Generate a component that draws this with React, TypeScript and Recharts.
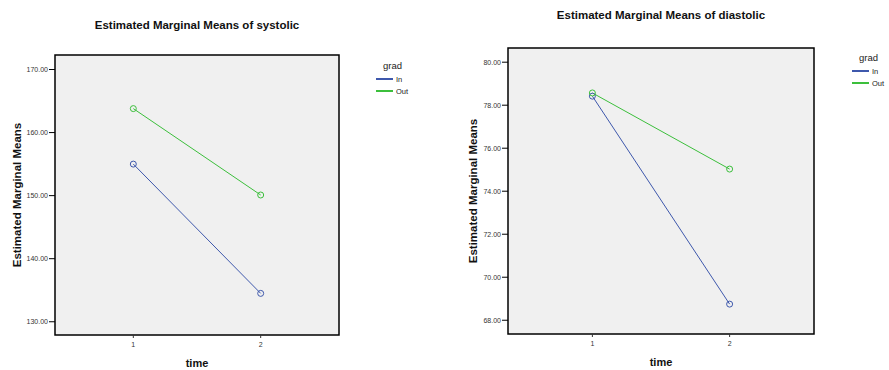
import React from 'react';
import { LineChart, Line, XAxis, YAxis, ReferenceArea } from 'recharts';

const times = [1, 2];
const groups = ['In', 'Out'];
const systolicIn = [155.0, 134.5];
const systolicOut = [163.8, 150.1];
const diastolicIn = [78.42, 68.75];
const diastolicOut = [78.57, 75.03];
const systolicTicks = [130, 140, 150, 160, 170];
const diastolicTicks = [68, 70, 72, 74, 76, 78, 80];

const COLORS = ['#3e58ac', '#3cbf3c'];
const FONT = 'Arial, "Liberation Sans", sans-serif';
const X_DOMAIN: [number, number] = [0.385, 2.615];

const buildRows = (inVals: number[], outVals: number[]) =>
  times.map((t, i) => ({ time: t, In: inVals[i], Out: outVals[i] }));

const GradLegend = ({ left, top }: { left: number; top: number }) => (
  <div style={{ position: 'absolute', left, top, fontFamily: FONT, color: '#222' }}>
    <div style={{ fontSize: 9.5, marginLeft: 7, marginBottom: 2 }}>grad</div>
    {groups.map((g, i) => (
      <div key={g} style={{ display: 'flex', alignItems: 'center', height: 12, fontSize: 7.5 }}>
        <span style={{ display: 'inline-block', width: 17, height: 1.3, background: COLORS[i], marginRight: 3 }} />
        {g}
      </div>
    ))}
  </div>
);

interface PanelProps {
  title: string;
  rows: { time: number; In: number; Out: number }[];
  domain: [number, number];
  ticks: number[];
  width: number;
  margin: { top: number; right: number; bottom: number; left: number };
  titleTop: number;
  labelOffset: number;
  legendLeft: number;
  legendTop: number;
}

const Panel: React.FC<PanelProps> = ({ title, rows, domain, ticks, width, margin, titleTop, labelOffset, legendLeft, legendTop }) => {
  const plotW = width - margin.left - margin.right - 50;
  return (
    <div style={{ position: 'relative', width, height: 370 }}>
      <div
        style={{
          position: 'absolute',
          top: titleTop,
          left: margin.left + 50 - 40,
          width: plotW + 80,
          textAlign: 'center',
          fontFamily: FONT,
          fontWeight: 'bold',
          fontSize: 11.5,
          color: '#111',
        }}
      >
        {title}
      </div>
      <LineChart width={width} height={370} data={rows} margin={margin}>
        <ReferenceArea
          x1={X_DOMAIN[0]}
          x2={X_DOMAIN[1]}
          y1={domain[0]}
          y2={domain[1]}
          fill="#f0f0f0"
          fillOpacity={1}
          stroke="#000"
          strokeWidth={1.5}
          ifOverflow="visible"
        />
        <XAxis
          dataKey="time"
          type="number"
          domain={X_DOMAIN}
          ticks={times}
          allowDataOverflow
          height={30}
          axisLine={false}
          tickSize={3}
          tickMargin={4}
          tickLine={{ stroke: '#333' }}
          tick={{ fontSize: 7, fill: '#333', fontFamily: FONT }}
          label={{
            value: 'time',
            position: 'insideBottom',
            offset: -2,
            style: { fontSize: 11, fontWeight: 'bold', fill: '#111', fontFamily: FONT },
          }}
        />
        <YAxis
          type="number"
          domain={domain}
          ticks={ticks}
          allowDataOverflow
          width={50}
          axisLine={false}
          tickSize={6}
          tickMargin={1}
          tickLine={{ stroke: '#000' }}
          tickFormatter={(v: number) => v.toFixed(2)}
          tick={{ fontSize: 7, fill: '#333', fontFamily: FONT }}
          label={{
            value: 'Estimated Marginal Means',
            angle: -90,
            position: 'insideLeft',
            offset: labelOffset,
            style: { fontSize: 11.5, fontWeight: 'bold', fill: '#111', fontFamily: FONT, textAnchor: 'middle' },
          }}
        />
        {groups.map((g, i) => (
          <Line
            key={g}
            dataKey={g}
            stroke={COLORS[i]}
            strokeWidth={1}
            dot={{ r: 3, stroke: COLORS[i], strokeWidth: 1, fill: 'none' }}
            activeDot={false}
            isAnimationActive={false}
          />
        ))}
      </LineChart>
      <GradLegend left={legendLeft} top={legendTop} />
    </div>
  );
};

export default function App() {
  return (
    <div style={{ position: 'absolute', left: 0, top: 0, width: 889, height: 370, background: '#fff', display: 'flex' }}>
      <Panel
        title="Estimated Marginal Means of systolic"
        rows={buildRows(systolicIn, systolicOut)}
        domain={[127.9, 172.3]}
        ticks={systolicTicks}
        width={445}
        margin={{ top: 55, right: 106, bottom: 5, left: 5 }}
        titleTop={19}
        labelOffset={12}
        legendLeft={376}
        legendTop={60}
      />
      <Panel
        title="Estimated Marginal Means of diastolic"
        rows={buildRows(diastolicIn, diastolicOut)}
        domain={[67.36, 80.66]}
        ticks={diastolicTicks}
        width={444}
        margin={{ top: 48, right: 75, bottom: 6, left: 13 }}
        titleTop={9}
        labelOffset={15}
        legendLeft={407}
        legendTop={52}
      />
    </div>
  );
}
